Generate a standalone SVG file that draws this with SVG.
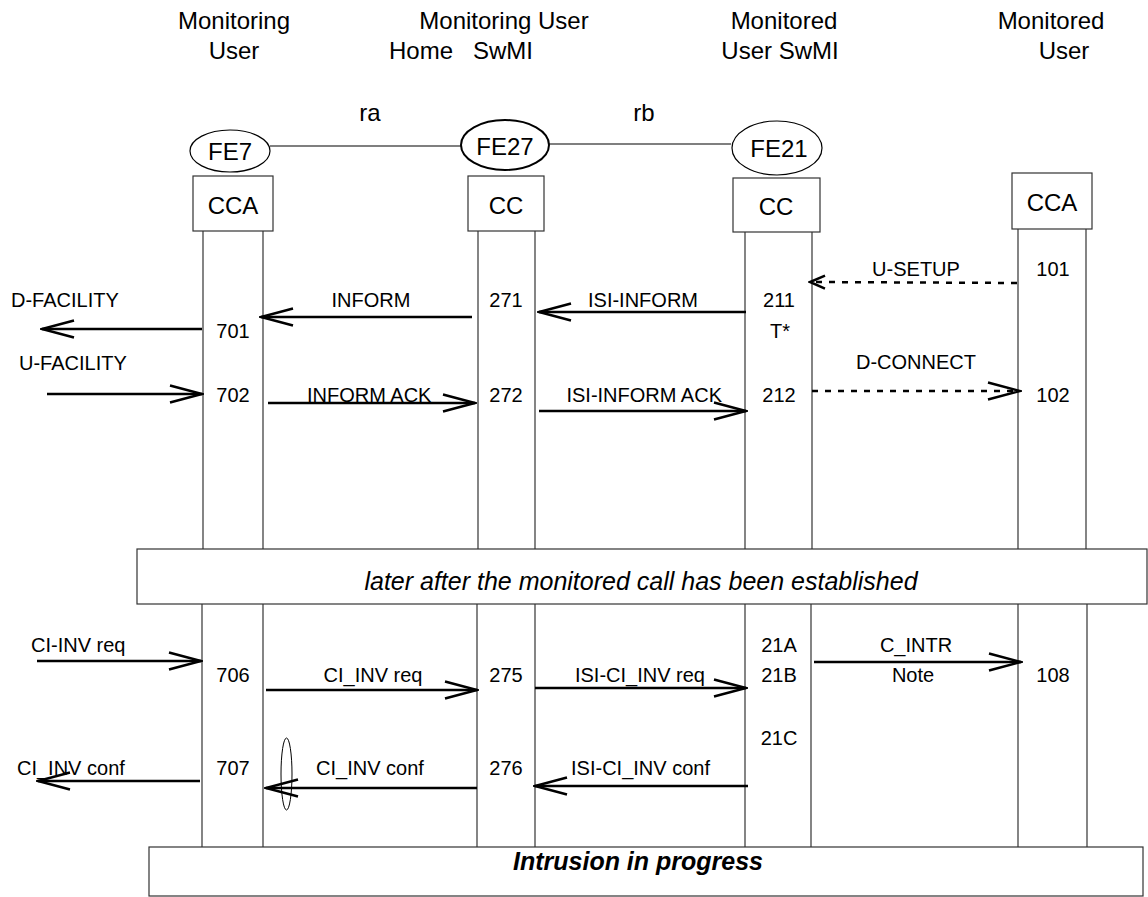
<svg xmlns="http://www.w3.org/2000/svg" width="1148" height="897" viewBox="0 0 1148 897">
<style>
text{font-family:"Liberation Sans",Arial,sans-serif;fill:#000}
.h{font-size:24px;text-anchor:middle}
.l{font-size:20px}
.m{text-anchor:middle}
.e{text-anchor:end}
.life{stroke:#444;stroke-width:1.3;fill:none}
.box{fill:#fff;stroke:#333;stroke-width:1.2}
.msg{stroke:#000;stroke-width:2.5;fill:none}
.dot{stroke:#000;stroke-width:2.5;fill:none;stroke-dasharray:6 7}
</style>
<defs>
<marker id="ah" viewBox="-34 -11 36 22" refX="0" refY="0" markerWidth="36" markerHeight="22" markerUnits="userSpaceOnUse" orient="auto">
<path d="M-32,-8.5 L0,0 L-32,8.5" fill="none" stroke="#000" stroke-width="2.5"/>
</marker>
<marker id="ahs" viewBox="-18 -9 20 18" refX="0" refY="0" markerWidth="20" markerHeight="18" markerUnits="userSpaceOnUse" orient="auto">
<path d="M-15,-6.5 L0,0 L-15,6.5" fill="none" stroke="#000" stroke-width="2.5"/>
</marker>
</defs>

<g id="headers">
<text class="h" x="234" y="29">Monitoring</text>
<text class="h" x="234" y="59">User</text>
<text class="h" x="504" y="29">Monitoring User</text>
<text x="389" y="59" style="font-size:24px" xml:space="preserve">Home   SwMI</text>
<text class="h" x="784" y="29">Monitored</text>
<text class="h" x="780" y="59">User SwMI</text>
<text class="h" x="1051" y="29">Monitored</text>
<text class="h" x="1064" y="59">User</text>
<text class="h" x="370" y="121">ra</text>
<text class="h" x="644" y="121">rb</text>
</g>

<g id="connectors">
<line x1="270" y1="146" x2="461" y2="146" stroke="#000" stroke-width="1.2"/>
<line x1="549" y1="144" x2="731" y2="144" stroke="#000" stroke-width="1.2"/>
<!-- lifelines upper -->
<path class="life" d="M203,231V549 M263,231V549 M478,231V549 M535,231V549 M745,232V549 M812,232V549 M1018,229V549 M1086,229V549"/>
<!-- lifelines lower -->
<path class="life" d="M202,604V848 M263,604V848 M477,604V848 M535,604V848 M745,604V848 M811,604V848 M1018,604V848 M1087,604V848"/>
<!-- messages -->
<line class="msg" x1="202" y1="329" x2="42" y2="329" marker-end="url(#ah)"/>
<line class="msg" x1="47" y1="394" x2="202" y2="394" marker-end="url(#ah)"/>
<line class="msg" x1="472" y1="317" x2="261" y2="317" marker-end="url(#ah)"/>
<line class="msg" x1="268" y1="403" x2="475" y2="403" marker-end="url(#ah)"/>
<line class="msg" x1="746" y1="312" x2="539" y2="312" marker-end="url(#ah)"/>
<line class="msg" x1="539" y1="411" x2="746" y2="411" marker-end="url(#ah)"/>
<line class="dot" x1="1017" y1="283" x2="810" y2="282" marker-end="url(#ahs)"/>
<line class="dot" x1="812" y1="391" x2="1020" y2="391" marker-end="url(#ah)"/>
<line class="msg" x1="37" y1="661" x2="201" y2="661" marker-end="url(#ah)"/>
<line class="msg" x1="266" y1="690" x2="477" y2="690" marker-end="url(#ah)"/>
<line class="msg" x1="535" y1="688" x2="746" y2="688" marker-end="url(#ah)"/>
<line class="msg" x1="814" y1="662" x2="1021" y2="662" marker-end="url(#ah)"/>
<line class="msg" x1="748" y1="786" x2="535" y2="786" marker-end="url(#ah)"/>
<line class="msg" x1="477" y1="788" x2="266" y2="788" marker-end="url(#ah)"/>
<line class="msg" x1="200" y1="781" x2="38" y2="781" marker-end="url(#ah)"/>
<ellipse cx="286.5" cy="774" rx="5.5" ry="36" fill="none" stroke="#000" stroke-width="1"/>
</g>

<g id="FE7">
<ellipse cx="230" cy="151" rx="40" ry="21" fill="#fff" stroke="#000" stroke-width="1.2"/>
<text class="h" x="230" y="160">FE7</text>
</g>
<g id="FE27">
<ellipse cx="505" cy="145" rx="44" ry="25" fill="#fff" stroke="#000" stroke-width="2"/>
<text class="h" x="505" y="155">FE27</text>
</g>
<g id="FE21">
<ellipse cx="777" cy="148" rx="45" ry="27" fill="#fff" stroke="#000" stroke-width="1.2"/>
<text class="h" x="779" y="157">FE21</text>
</g>
<g id="CCA_left">
<rect class="box" x="193" y="176" width="80" height="55"/>
<text class="h" x="233" y="214">CCA</text>
</g>
<g id="CC_27">
<rect class="box" x="468" y="176" width="76" height="55"/>
<text class="h" x="506" y="214">CC</text>
</g>
<g id="CC_21">
<rect class="box" x="733" y="178" width="87" height="54"/>
<text class="h" x="776" y="215">CC</text>
</g>
<g id="CCA_right">
<rect class="box" x="1012" y="173" width="80" height="56"/>
<text class="h" x="1052" y="211">CCA</text>
</g>

<g id="labels" class="l">
<text class="l" x="11" y="307">D-FACILITY</text>
<text class="l" x="19" y="370">U-FACILITY</text>
<text class="l m" x="371" y="307">INFORM</text>
<text class="l" x="307" y="402">INFORM ACK</text>
<text class="l m" x="643" y="307">ISI-INFORM</text>
<text class="l e" x="722" y="402">ISI-INFORM ACK</text>
<text class="l m" x="916" y="276">U-SETUP</text>
<text class="l m" x="916" y="369">D-CONNECT</text>
<text class="l m" x="233" y="338">701</text>
<text class="l m" x="233" y="402">702</text>
<text class="l m" x="506" y="307">271</text>
<text class="l m" x="506" y="402">272</text>
<text class="l m" x="779" y="307">211</text>
<text class="l m" x="780" y="338">T*</text>
<text class="l m" x="779" y="402">212</text>
<text class="l m" x="1053" y="276">101</text>
<text class="l m" x="1053" y="402">102</text>
<text class="l" x="31" y="652">CI-INV req</text>
<text class="l m" x="233" y="682">706</text>
<text class="l m" x="373" y="682">CI_INV req</text>
<text class="l m" x="506" y="682">275</text>
<text class="l e" x="705" y="682">ISI-CI_INV req</text>
<text class="l m" x="779" y="652">21A</text>
<text class="l m" x="779" y="682">21B</text>
<text class="l m" x="779" y="745">21C</text>
<text class="l m" x="916" y="652">C_INTR</text>
<text class="l m" x="913" y="682">Note</text>
<text class="l m" x="1053" y="682">108</text>
<text class="l" x="17" y="775">CI_INV conf</text>
<text class="l m" x="233" y="775">707</text>
<text class="l m" x="370" y="775">CI_INV conf</text>
<text class="l m" x="506" y="775">276</text>
<text class="l e" x="710" y="775">ISI-CI_INV conf</text>
</g>

<g id="later_box">
<rect class="box" x="137" y="549" width="1010" height="55"/>
<text x="641" y="590" style="font-size:25px;font-style:italic;text-anchor:middle">later after the monitored call has been established</text>
</g>
<g id="intrusion_box">
<rect class="box" x="149" y="847" width="994" height="49"/>
<text x="638" y="870" style="font-size:25px;font-style:italic;font-weight:bold;text-anchor:middle">Intrusion in progress</text>
</g>
</svg>
